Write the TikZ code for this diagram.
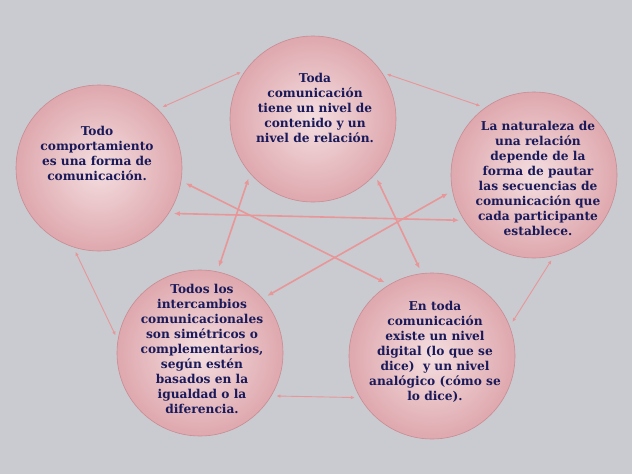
\documentclass[tikz,border=0pt]{standalone}
\usepackage{fontspec}
\setmainfont{DejaVu Serif}
\usetikzlibrary{arrows.meta}

\definecolor{bggray}{RGB}{201,203,208}
\definecolor{pinkin}{RGB}{244,222,224}
\definecolor{pinkout}{RGB}{222,168,174}
\definecolor{pinkrim}{RGB}{200,140,146}
\definecolor{arrowpink}{RGB}{232,150,152}
\definecolor{navytext}{RGB}{26,26,90}

\begin{document}
\begin{tikzpicture}[x=1pt, y=-1pt,
    bubble/.style={circle, minimum size=166pt, inner sep=0pt, shading=radial, inner color=pinkin, outer color=pinkout, draw=pinkrim, line width=0.6pt},
    txt/.style={align=center, text=navytext, font=\fontsize{12.2}{15}\selectfont\bfseries},
    side/.style={{Latex[length=4pt,width=3.5pt]}-{Latex[length=4pt,width=3.5pt]}, arrowpink, line width=0.9pt, shorten >=5pt, shorten <=5pt},
    cross/.style={{Latex[length=6pt,width=5pt]}-{Latex[length=6pt,width=5pt]}, arrowpink, line width=1.6pt, shorten >=5pt, shorten <=5pt}]
    % Background
    \fill[bggray] (0,0) rectangle (632,474);
    \useasboundingbox (0,0) rectangle (632,474);

    % Circles
    \node[bubble] (top) at (313,119) {};
    \node[bubble] (left) at (99,168) {};
    \node[bubble] (right) at (534,175) {};
    \node[bubble] (botleft) at (200,353) {};
    \node[bubble] (botright) at (432,356) {};

    % Texts
    \node[txt] (toptxt) at (315,108) {Toda\\comunicación\\tiene un nivel de\\contenido y un\\nivel de relación.};
    \node[txt] (lefttxt) at (97,153) {Todo\\comportamiento\\es una forma de\\comunicación.};
    \node[txt] (righttxt) at (538,178) {La naturaleza de\\una relación\\depende de la\\forma de pautar\\las secuencias de\\comunicación que\\cada participante\\establece.};
    \node[txt] (botlefttxt) at (202,349) {Todos los\\intercambios\\comunicacionales\\son simétricos o\\complementarios,\\según estén\\basados en la\\igualdad o la\\diferencia.};
    \node[txt] (botrighttxt) at (435,352) {En toda\\comunicación\\existe un nivel\\digital (lo que se\\dice)\ \ y un nivel\\analógico (cómo se\\lo dice).};

    % Outer connections
    \draw[side] (left.45) -- (top.144);
    \draw[side] (top.34) -- (right.126);
    \draw[side] (right.284) -- (botright.21);
    \draw[side] (botleft.-31) -- (botright.210);
    \draw[side] (left.252) -- (botleft.171);

    % Inner connections
    \draw[cross] (left.-9) -- (botright.121);
    \draw[cross] (left.-33) -- (right.213);
    \draw[cross] (top.221) -- (botleft.78);
    \draw[cross] (top.318) -- (botright.97);
    \draw[cross] (right.191) -- (botleft.41);
\end{tikzpicture}
\end{document}
